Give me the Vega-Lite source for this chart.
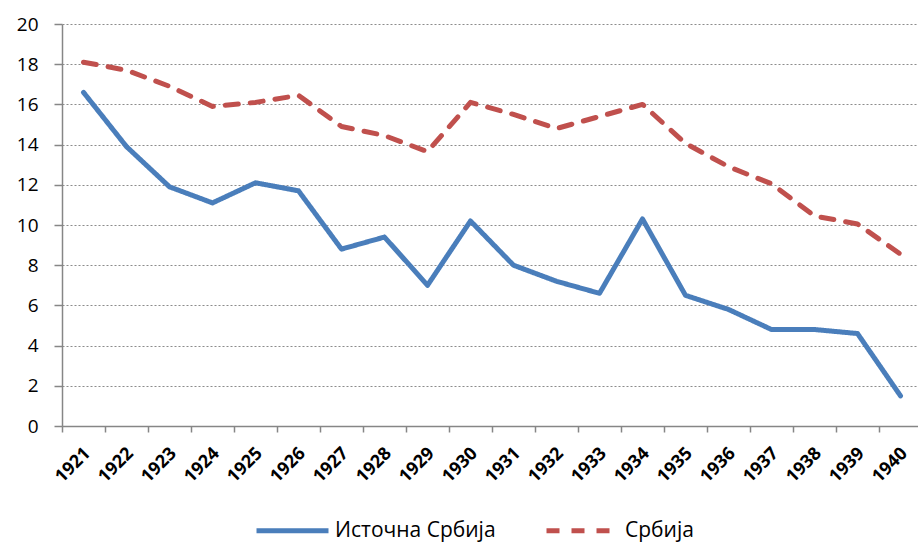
{
  "$schema": "https://vega.github.io/schema/vega-lite/v6.json",
  "width": 860,
  "height": 402,
  "autosize": {"type": "none"},
  "padding": {"left": 62, "top": 24, "right": 0, "bottom": 117},
  "background": "white",
  "config": {
    "view": {"stroke": null},
    "font": "Open Sans"
  },
  "data": {
    "values": [
      {"year": "1921", "series": "Источна Србија", "value": 16.6},
      {"year": "1922", "series": "Источна Србија", "value": 13.9},
      {"year": "1923", "series": "Источна Србија", "value": 11.9},
      {"year": "1924", "series": "Источна Србија", "value": 11.1},
      {"year": "1925", "series": "Источна Србија", "value": 12.1},
      {"year": "1926", "series": "Источна Србија", "value": 11.7},
      {"year": "1927", "series": "Источна Србија", "value": 8.8},
      {"year": "1928", "series": "Источна Србија", "value": 9.4},
      {"year": "1929", "series": "Источна Србија", "value": 7.0},
      {"year": "1930", "series": "Источна Србија", "value": 10.2},
      {"year": "1931", "series": "Источна Србија", "value": 8.0},
      {"year": "1932", "series": "Источна Србија", "value": 7.2},
      {"year": "1933", "series": "Источна Србија", "value": 6.6},
      {"year": "1934", "series": "Источна Србија", "value": 10.3},
      {"year": "1935", "series": "Источна Србија", "value": 6.5},
      {"year": "1936", "series": "Источна Србија", "value": 5.8},
      {"year": "1937", "series": "Источна Србија", "value": 4.8},
      {"year": "1938", "series": "Источна Србија", "value": 4.8},
      {"year": "1939", "series": "Источна Србија", "value": 4.6},
      {"year": "1940", "series": "Источна Србија", "value": 1.5},
      {"year": "1921", "series": "Србија", "value": 18.1},
      {"year": "1922", "series": "Србија", "value": 17.7},
      {"year": "1923", "series": "Србија", "value": 16.9},
      {"year": "1924", "series": "Србија", "value": 15.9},
      {"year": "1925", "series": "Србија", "value": 16.1},
      {"year": "1926", "series": "Србија", "value": 16.45},
      {"year": "1927", "series": "Србија", "value": 14.9},
      {"year": "1928", "series": "Србија", "value": 14.45},
      {"year": "1929", "series": "Србија", "value": 13.65},
      {"year": "1930", "series": "Србија", "value": 16.1},
      {"year": "1931", "series": "Србија", "value": 15.5},
      {"year": "1932", "series": "Србија", "value": 14.8},
      {"year": "1933", "series": "Србија", "value": 15.4},
      {"year": "1934", "series": "Србија", "value": 16.0},
      {"year": "1935", "series": "Србија", "value": 14.06},
      {"year": "1936", "series": "Србија", "value": 12.9},
      {"year": "1937", "series": "Србија", "value": 12.05},
      {"year": "1938", "series": "Србија", "value": 10.45},
      {"year": "1939", "series": "Србија", "value": 10.05},
      {"year": "1940", "series": "Србија", "value": 8.55}
    ]
  },
  "mark": {"type": "line", "strokeWidth": 5, "strokeCap": "round", "strokeJoin": "round"},
  "encoding": {
    "x": {
      "field": "year",
      "type": "ordinal",
      "bandPosition": 0.5,
      "scale": {"type": "band", "paddingInner": 0, "paddingOuter": 0},
      "axis": {
        "title": null,
        "bandPosition": 0,
        "labelOffset": -2,
        "labelAngle": -45,
        "labelFontWeight": "bold",
        "labelFontSize": 18,
        "labelColor": "#000000",
        "labelPadding": 12,
        "tickSize": 6,
        "tickColor": "#868686",
        "tickWidth": 1.5,
        "domainColor": "#868686",
        "domainWidth": 1.5,
        "grid": false
      }
    },
    "y": {
      "field": "value",
      "type": "quantitative",
      "scale": {"domain": [0, 20], "nice": false},
      "axis": {
        "title": null,
        "values": [0, 2, 4, 6, 8, 10, 12, 14, 16, 18, 20],
        "labelFontSize": 19,
        "labelColor": "#000000",
        "labelPadding": 16,
        "tickSize": 8,
        "tickColor": "#868686",
        "tickWidth": 1.5,
        "domainColor": "#868686",
        "domainWidth": 1.5,
        "grid": true,
        "gridDash": [2, 2],
        "gridColor": "#8c8c8c",
        "gridWidth": 1.2
      }
    },
    "color": {
      "field": "series",
      "type": "nominal",
      "scale": {"domain": ["Источна Србија", "Србија"], "range": ["#4A7EBB", "#C0504D"]},
      "legend": {
        "title": null,
        "orient": "none",
        "legendX": 216,
        "legendY": 492,
        "direction": "horizontal",
        "symbolType": "M-3,0H3",
        "symbolSize": 576,
        "symbolStrokeWidth": 5,
        "labelFontSize": 21,
        "labelLimit": 400,
        "labelColor": "#000000",
        "labelOffset": 28,
        "columnPadding": 40
      }
    },
    "strokeDash": {
      "field": "series",
      "type": "nominal",
      "scale": {"domain": ["Источна Србија", "Србија"], "range": [[1, 0], [13, 12]]},
      "legend": {
        "title": null,
        "orient": "none",
        "legendX": 216,
        "legendY": 492,
        "direction": "horizontal",
        "symbolType": "M-3,0H3",
        "symbolSize": 576,
        "symbolStrokeWidth": 5,
        "labelFontSize": 21,
        "labelLimit": 400,
        "labelColor": "#000000",
        "labelOffset": 28,
        "columnPadding": 40
      }
    }
  }
}
